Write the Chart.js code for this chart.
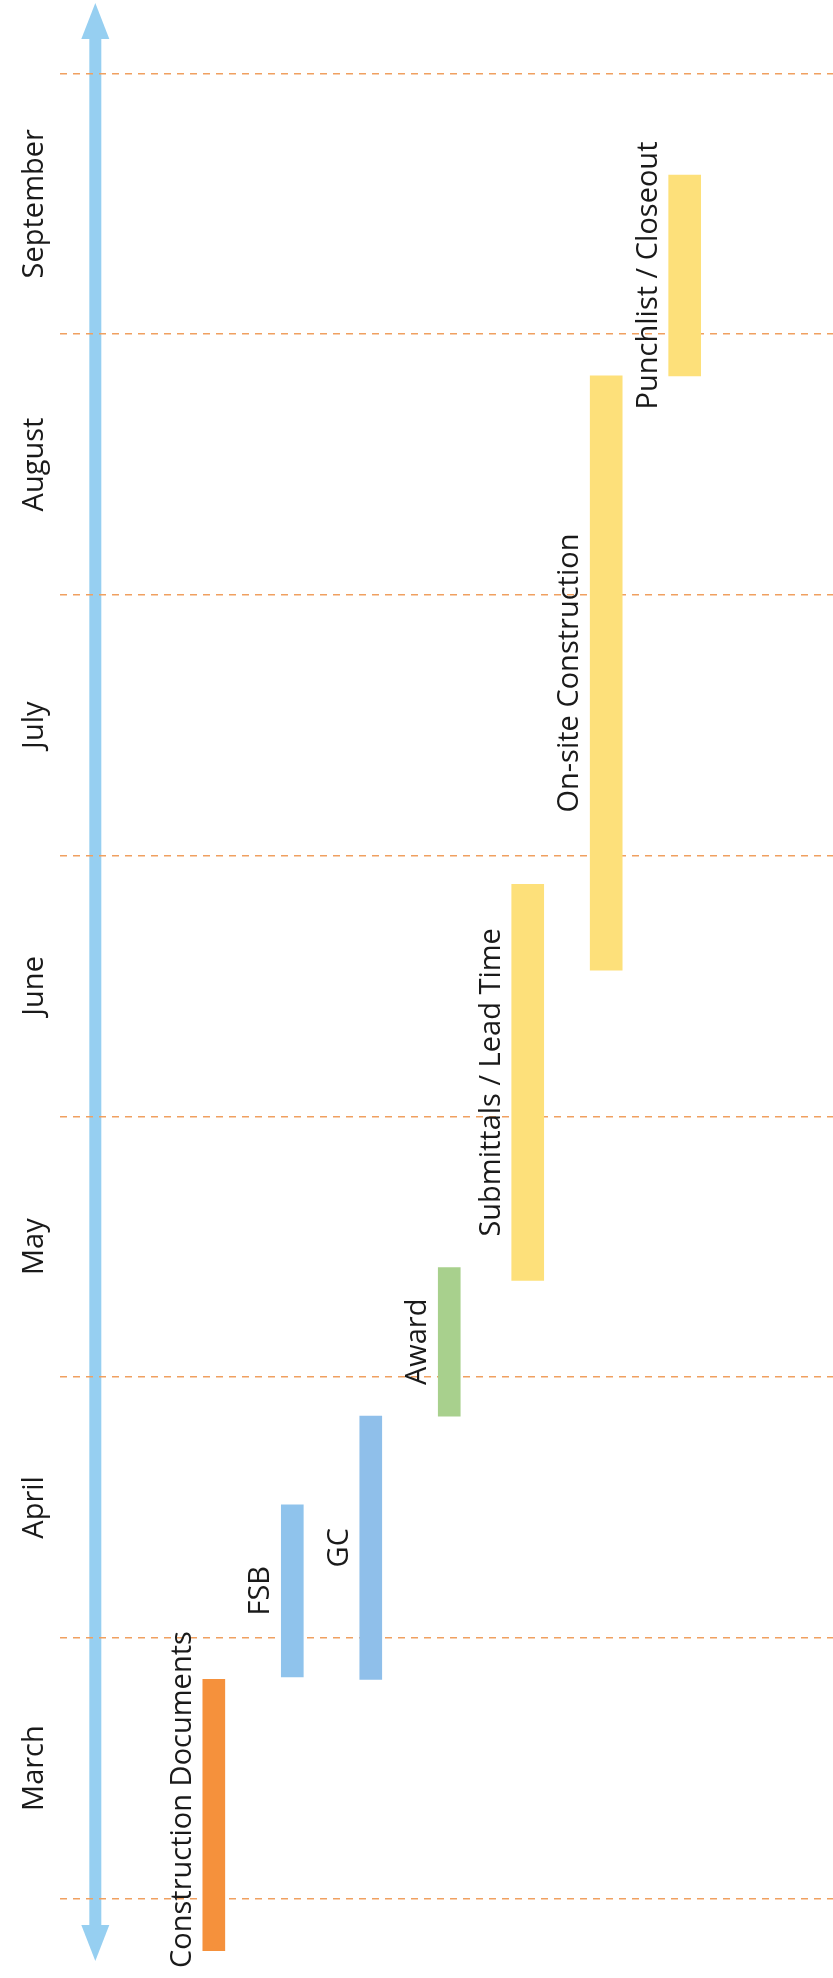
<!DOCTYPE html>
<html>
<head>
<meta charset="utf-8">
<script src="https://cdn.jsdelivr.net/npm/chart.js@4/dist/chart.umd.min.js"></script>
<style>
    html, body { margin: 0; padding: 0; background: #ffffff; }
    #wrap { position: relative; width: 833px; height: 1978px; }
</style>
</head>
<body>
<div id="wrap"><canvas id="timelineChart"></canvas></div>
<script>
// months measured from March 1st (0 = start of March, 7 = end of September)
const months = ['March', 'April', 'May', 'June', 'July', 'August', 'September'];

const tasks = [
    'Construction Documents',
    'FSB',
    'GC',
    'Award',
    'Submittals / Lead Time',
    'On-site Construction',
    'Punchlist / Closeout'
];
const taskStart = [-0.20, 0.85, 0.84, 1.85, 2.37, 3.56, 5.84];
const taskEnd = [0.84, 1.51, 1.85, 2.42, 3.89, 5.84, 6.61];
const taskColors = ['#f5913c', '#8fc3ec', '#8fbfea', '#a8d08d', '#fde07a', '#fde07a', '#fde07a'];
// the yellow construction phases are drawn wider than the bidding phases
const taskWide = [false, false, false, false, true, true, true];

const textFont = '29px "Open Sans", "DejaVu Sans", sans-serif';

function buildDataset(wide) {
    const points = [];
    const colors = [];
    const names = [];
    tasks.forEach(function (name, i) {
        if (taskWide[i] !== wide) {
            return;
        }
        points.push({ x: i + 1, y: [taskStart[i], taskEnd[i]] });
        colors.push(taskColors[i]);
        names.push(name);
    });
    return {
        label: wide ? 'Construction' : 'Bidding',
        data: points,
        taskNames: names,
        backgroundColor: colors,
        borderWidth: 0,
        borderSkipped: false,
        barThickness: wide ? 32 : 22,
        grouped: false
    };
}

const timelinePlugin = {
    id: 'timelineDecor',
    beforeDraw: function (chart) {
        // double headed arrow along the time axis
        const ctx = chart.ctx;
        const xs = chart.scales.x;
        const ys = chart.scales.y;
        const ax = xs.getPixelForValue(-0.51);
        const top = ys.getPixelForValue(ys.max);
        const bottom = ys.getPixelForValue(ys.min);
        const head = 36;
        const half = 14;
        ctx.save();
        ctx.fillStyle = '#96cff1';
        ctx.fillRect(ax - 6, top + head - 1, 12, bottom - top - 2 * head + 2);
        ctx.beginPath();
        ctx.moveTo(ax, top);
        ctx.lineTo(ax + half, top + head);
        ctx.lineTo(ax - half, top + head);
        ctx.closePath();
        ctx.fill();
        ctx.beginPath();
        ctx.moveTo(ax, bottom);
        ctx.lineTo(ax + half, bottom - head);
        ctx.lineTo(ax - half, bottom - head);
        ctx.closePath();
        ctx.fill();
        ctx.restore();
    },
    afterDatasetsDraw: function (chart) {
        const ctx = chart.ctx;
        const ys = chart.scales.y;
        ctx.save();
        ctx.font = textFont;
        ctx.fillStyle = '#1a1a1a';
        ctx.textAlign = 'center';
        ctx.textBaseline = 'alphabetic';

        // month names, centred inside each month
        months.forEach(function (m, i) {
            const y = ys.getPixelForValue(i + 0.5);
            ctx.save();
            ctx.translate(chart.chartArea.left - 17, y);
            ctx.rotate(-Math.PI / 2);
            ctx.fillText(m, 0, 0);
            ctx.restore();
        });

        // task names to the left of each bar, kept inside the canvas
        chart.data.datasets.forEach(function (ds, di) {
            const meta = chart.getDatasetMeta(di);
            meta.data.forEach(function (bar, i) {
                const props = bar.getProps(['x', 'y', 'base', 'width'], true);
                const name = ds.taskNames[i];
                const half = ctx.measureText(name).width / 2;
                const cx = props.x - props.width / 2 - 12;
                let cy = (props.y + props.base) / 2;
                cy = Math.min(cy, chart.height - half - 10);
                ctx.save();
                ctx.translate(cx, cy);
                ctx.rotate(-Math.PI / 2);
                ctx.fillText(name, 0, 0);
                ctx.restore();
            });
        });
        ctx.restore();
    }
};

new Chart(document.getElementById('timelineChart'), {
    type: 'bar',
    data: {
        datasets: [buildDataset(false), buildDataset(true)]
    },
    options: {
        responsive: true,
        maintainAspectRatio: false,
        animation: false,
        layout: {
            padding: { top: 3, bottom: 17, left: 60, right: 0 }
        },
        plugins: {
            legend: { display: false },
            tooltip: { enabled: false }
        },
        scales: {
            x: {
                type: 'linear',
                display: false,
                offset: false,
                min: -0.96,
                max: 8.89
            },
            y: {
                type: 'linear',
                min: -0.24,
                max: 7.27,
                afterBuildTicks: function (axis) {
                    axis.ticks = [];
                    for (let i = 0; i <= months.length; i++) {
                        axis.ticks.push({ value: i });
                    }
                },
                ticks: { display: false },
                grid: {
                    drawTicks: false,
                    color: '#f0a060',
                    lineWidth: 1.5
                },
                border: {
                    display: false,
                    dash: [7, 6]
                }
            }
        }
    },
    plugins: [timelinePlugin]
});
</script>
</body>
</html>
